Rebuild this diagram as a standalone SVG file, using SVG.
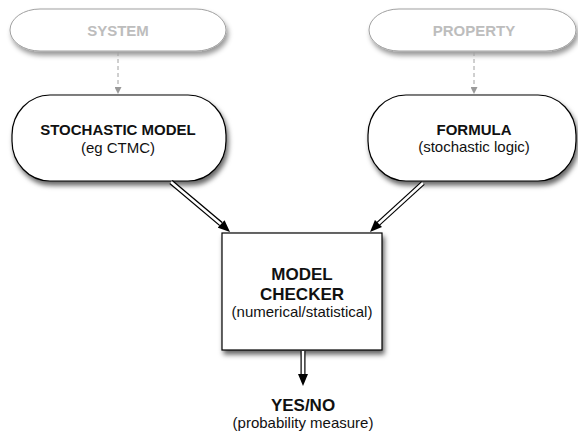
<svg xmlns="http://www.w3.org/2000/svg" width="578" height="432" viewBox="0 0 578 432">
  <defs>
    <filter id="shadow" x="-10%" y="-20%" width="130%" height="150%">
      <feDropShadow dx="2" dy="4" stdDeviation="2.5" flood-color="#000" flood-opacity="0.6"/>
    </filter>
    <filter id="shadowLight" x="-10%" y="-20%" width="130%" height="160%">
      <feDropShadow dx="2" dy="4" stdDeviation="2.5" flood-color="#000" flood-opacity="0.4"/>
    </filter>
    <marker id="headGray" viewBox="0 0 10 10" refX="10" refY="5" markerWidth="7" markerHeight="7" markerUnits="userSpaceOnUse" orient="auto">
      <path d="M0,0 L10,5 L0,10 z" fill="#999"/>
    </marker>
    <marker id="headBlack" viewBox="0 0 12 10" refX="12" refY="5" markerWidth="13" markerHeight="10" markerUnits="userSpaceOnUse" orient="auto">
      <path d="M0,0 L12,5 L0,10 z" fill="#000"/>
    </marker>
    <style>
      text { font-family: "Liberation Sans", Arial, Helvetica, sans-serif; text-anchor: middle; }
      .title { font-size: 15px; font-weight: bold; fill: #111; }
      .big { font-size: 17px; font-weight: bold; fill: #111; }
      .sub { font-size: 15px; fill: #111; }
      .faint { font-size: 15px; font-weight: bold; fill: #bdbdbd; }
      .node { fill: #fff; stroke: #000; stroke-width: 1.2; }
      .ghost { fill: #fff; stroke: #a0a0a0; stroke-width: 1; }
      .dash { stroke: #a0a0a0; stroke-width: 1; stroke-dasharray: 4 3; fill: none; }
      .pipeOut { stroke: #000; stroke-width: 5; fill: none; }
      .pipeIn { stroke: #fff; stroke-width: 2.6; fill: none; }
    </style>
  </defs>

  <rect width="578" height="432" fill="#fff"/>

  <g id="system">
    <rect class="ghost" x="10" y="9" width="216" height="42" rx="30" ry="21" filter="url(#shadowLight)"/>
    <text class="faint" x="118" y="36">SYSTEM</text>
  </g>

  <g id="property">
    <rect class="ghost" x="369" y="9" width="207" height="42" rx="30" ry="21" filter="url(#shadowLight)"/>
    <text class="faint" x="474" y="36">PROPERTY</text>
  </g>

  <g id="stochastic-model">
    <rect class="node" x="12" y="95" width="214" height="86" rx="38" ry="40" filter="url(#shadow)"/>
    <text class="title" x="118" y="135">STOCHASTIC MODEL</text>
    <text class="sub" x="118" y="153">(eg CTMC)</text>
  </g>

  <g id="formula">
    <rect class="node" x="368" y="95" width="208" height="86" rx="38" ry="40" filter="url(#shadow)"/>
    <text class="title" x="474" y="135">FORMULA</text>
    <text class="sub" x="474" y="152">(stochastic logic)</text>
  </g>

  <g id="model-checker">
    <rect class="node" x="222" y="233" width="160" height="117" filter="url(#shadow)"/>
    <text class="big" x="302" y="280">MODEL</text>
    <text class="big" x="302" y="300">CHECKER</text>
    <text class="sub" x="302" y="317">(numerical/statistical)</text>
  </g>

  <g id="result">
    <text class="big" x="303" y="411">YES/NO</text>
    <text class="sub" x="303" y="428">(probability measure)</text>
  </g>

  <g id="connectors">
    <!-- dashed refinement links -->
    <line class="dash" x1="118" y1="52" x2="118" y2="94" marker-end="url(#headGray)"/>
    <line class="dash" x1="474" y1="52" x2="474" y2="94" marker-end="url(#headGray)"/>

    <!-- hollow double-line flows -->
    <line class="pipeOut" x1="171" y1="182" x2="221" y2="224"/>
    <line class="pipeIn" x1="171" y1="182" x2="222" y2="225"/>
    <line x1="218" y1="221" x2="230" y2="232" stroke="none" marker-end="url(#headBlack)"/>

    <line class="pipeOut" x1="423" y1="183" x2="378" y2="224"/>
    <line class="pipeIn" x1="423" y1="183" x2="377" y2="225"/>
    <line x1="381" y1="221" x2="370" y2="232" stroke="none" marker-end="url(#headBlack)"/>

    <line class="pipeOut" x1="303" y1="351" x2="303" y2="374"/>
    <line class="pipeIn" x1="303" y1="351" x2="303" y2="375"/>
    <line x1="303" y1="372" x2="303" y2="386" stroke="none" marker-end="url(#headBlack)"/>
  </g>
</svg>
